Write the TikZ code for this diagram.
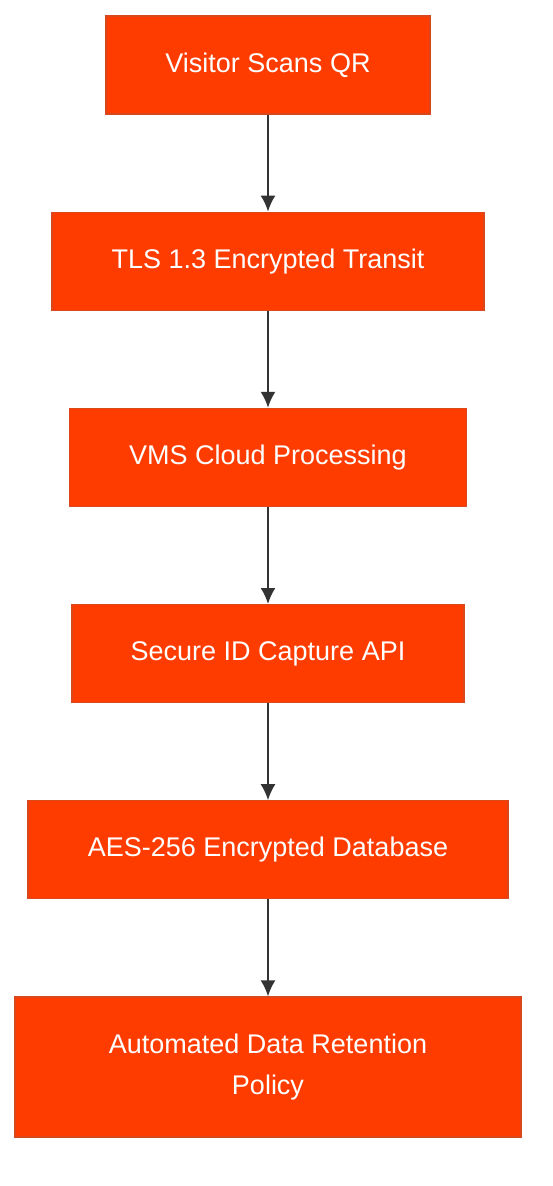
\documentclass[tikz,border=0pt]{standalone}
\usepackage{fontspec}
\setmainfont{Liberation Sans}
\usetikzlibrary{positioning, arrows.meta}
\definecolor{rosso}{HTML}{FF3C00}
\definecolor{bordo}{HTML}{D9481C}
\definecolor{grigio}{HTML}{333333}

\begin{document}
\begin{tikzpicture}[x=1pt, y=1pt, node distance=97pt,
    passo/.style={rectangle, draw=bordo, line width=1.2pt, fill=rosso, text=white,
      font=\fontsize{27}{41}\selectfont, minimum height=98pt, align=center},
    freccia/.style={-{Latex[length=16pt,width=15pt]}, draw=grigio, line width=2pt}]
        %area del disegno
        \useasboundingbox (0,0) rectangle (552,-1186);
        %disegno nodi
        \node[passo, minimum width=324pt] (scan) at (268,-65) {Visitor Scans QR};
        \node[passo, minimum width=432pt, below=of scan] (tls) {TLS 1.3 Encrypted Transit};
        \node[passo, minimum width=397pt, below=of tls] (vms) {VMS Cloud Processing};
        \node[passo, minimum width=392pt, below=of vms] (api) {Secure ID Capture API};
        \node[passo, minimum width=480pt, below=of api] (db) {AES-256 Encrypted Database};
        \node[passo, minimum width=506pt, minimum height=140pt, below=of db] (policy) {Automated Data Retention\\Policy};
        %disegno frecce
        \draw[freccia] (scan) -- (tls);
        \draw[freccia] (tls) -- (vms);
        \draw[freccia] (vms) -- (api);
        \draw[freccia] (api) -- (db);
        \draw[freccia] (db) -- (policy);
\end{tikzpicture}
\end{document}
